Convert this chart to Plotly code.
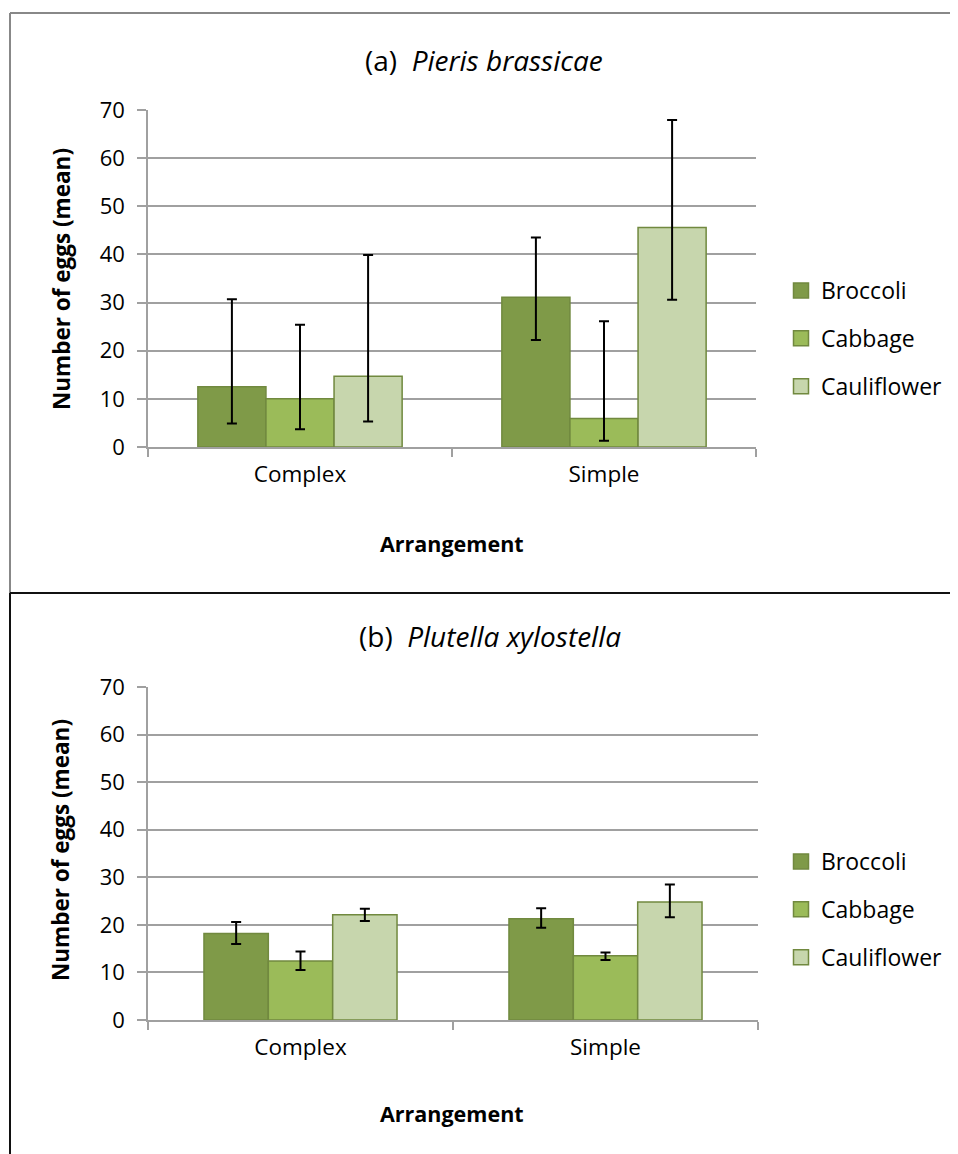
import plotly.graph_objects as go

# ---------------- data ----------------
categories = ["Complex", "Simple"]
series_names = ["Broccoli", "Cabbage", "Cauliflower"]
y_ticks = [0, 10, 20, 30, 40, 50, 60, 70]

# (a) Pieris brassicae : mean, error-bar top, error-bar bottom
a_broccoli = [12.5, 31.1]
a_broccoli_top = [30.7, 43.5]
a_broccoli_bottom = [4.9, 22.2]
a_cabbage = [10.0, 5.9]
a_cabbage_top = [25.4, 26.1]
a_cabbage_bottom = [3.7, 1.3]
a_cauliflower = [14.7, 45.6]
a_cauliflower_top = [39.9, 67.9]
a_cauliflower_bottom = [5.3, 30.6]

# (b) Plutella xylostella
b_broccoli = [18.2, 21.3]
b_broccoli_top = [20.6, 23.5]
b_broccoli_bottom = [16.0, 19.4]
b_cabbage = [12.4, 13.5]
b_cabbage_top = [14.4, 14.2]
b_cabbage_bottom = [10.5, 12.6]
b_cauliflower = [22.1, 24.8]
b_cauliflower_top = [23.4, 28.5]
b_cauliflower_bottom = [20.8, 21.6]

# ---------------- styling ----------------
W, H = 958, 1154
OFF = 8  # page body margin
FONT = "Open Sans"
fills = ["#7F9A48", "#9BBB59", "#C7D6AD"]
outline = "#71893F"
grid = "#A0A0A0"


def px_x(p):
    return (p - OFF) / W


def px_y(p):
    return 1 - (p - OFF) / H


panels = [
    dict(
        means=[a_broccoli, a_cabbage, a_cauliflower],
        tops=[a_broccoli_top, a_cabbage_top, a_cauliflower_top],
        bottoms=[a_broccoli_bottom, a_cabbage_bottom, a_cauliflower_bottom],
        xd=[px_x(148), px_x(756)], yd=[px_y(447), px_y(110)],
        barw=0.224, legend="legend", xa="x", ya="y",
    ),
    dict(
        means=[b_broccoli, b_cabbage, b_cauliflower],
        tops=[b_broccoli_top, b_cabbage_top, b_cauliflower_top],
        bottoms=[b_broccoli_bottom, b_cabbage_bottom, b_cauliflower_bottom],
        xd=[px_x(148), px_x(758)], yd=[px_y(1020), px_y(687)],
        barw=0.211, legend="legend2", xa="x2", ya="y2",
    ),
]

fig = go.Figure()
for p in panels:
    w = p["barw"]
    for i, name in enumerate(series_names):
        m = p["means"][i]
        up = [t - v for t, v in zip(p["tops"][i], m)]
        dn = [v - b for v, b in zip(m, p["bottoms"][i])]
        fig.add_trace(go.Bar(
            x=categories, y=m, name=name,
            width=w, offset=-1.5 * w + i * w,
            marker=dict(color=fills[i], line=dict(color=outline, width=1.5)),
            error_y=dict(type="data", symmetric=False, array=up, arrayminus=dn,
                         color="black", thickness=2, width=5),
            xaxis=p["xa"], yaxis=p["ya"], showlegend=False,
            legendgroup=p["legend"] + name,
        ))
    # legend entries (square swatches)
    for i, name in enumerate(series_names):
        fig.add_trace(go.Scatter(
            x=[None], y=[None], mode="markers", name=name,
            marker=dict(symbol="square", size=15, color=fills[i],
                        line=dict(color=outline, width=1.5)),
            xaxis=p["xa"], yaxis=p["ya"], legend=p["legend"],
            legendgroup=p["legend"] + name, hoverinfo="skip",
        ))

axis_common_x = dict(
    type="category", showline=True, linecolor=grid, linewidth=1.5,
    ticks="outside", tickson="boundaries", ticklen=8, tickcolor=grid, tickwidth=1.5,
    showgrid=False, tickfont=dict(family=FONT, size=22.5, color="black"),
    ticklabelstandoff=6, automargin=False, fixedrange=True,
)
axis_common_y = dict(
    range=[0, 70], tickvals=y_ticks, showline=True, linecolor=grid, linewidth=1.5,
    ticks="outside", ticklen=9, tickcolor=grid, tickwidth=1.5,
    showgrid=True, gridcolor=grid, gridwidth=1.5, zeroline=False,
    tickfont=dict(family=FONT, size=22, color="black"), ticklabelstandoff=8,
    automargin=False, fixedrange=True,
)

legend_common = dict(xanchor="left", yanchor="top", font=dict(family=FONT, size=23),
                     tracegroupgap=15, bgcolor="rgba(0,0,0,0)")

fig.update_layout(
    width=W, height=H, margin=dict(l=0, r=0, t=0, b=0, autoexpand=False),
    paper_bgcolor="white", plot_bgcolor="white",
    barmode="group", showlegend=True,
    font=dict(family=FONT, color="black"),
    xaxis=dict(domain=panels[0]["xd"], anchor="y", **axis_common_x),
    yaxis=dict(domain=panels[0]["yd"], anchor="x", **axis_common_y),
    xaxis2=dict(domain=panels[1]["xd"], anchor="y2", **axis_common_x),
    yaxis2=dict(domain=panels[1]["yd"], anchor="x2", **axis_common_y),
    legend=dict(x=px_x(781), y=px_y(269), **legend_common),
    legend2=dict(x=px_x(781), y=px_y(840), **legend_common),
)

annotations = [
    dict(text="(a)&nbsp;&nbsp;<i>Pieris brassicae</i>", x=px_x(484), y=px_y(60), size=28),
    dict(text="(b)&nbsp;&nbsp;<i>Plutella xylostella</i>", x=px_x(490), y=px_y(636), size=28),
    dict(text="<b>Arrangement</b>", x=px_x(452), y=px_y(543), size=21.5),
    dict(text="<b>Arrangement</b>", x=px_x(452), y=px_y(1113), size=21.5),
]
for a in annotations:
    fig.add_annotation(text=a["text"], x=a["x"], y=a["y"], xref="paper", yref="paper",
                       xanchor="center", yanchor="middle", showarrow=False,
                       font=dict(family=FONT, size=a["size"], color="black"))
for yc in (279, 850):
    fig.add_annotation(text="<b>Number of eggs (mean)</b>", x=px_x(61), y=px_y(yc),
                       xref="paper", yref="paper", xanchor="center", yanchor="middle",
                       textangle=-90, showarrow=False,
                       font=dict(family=FONT, size=22.5, color="black"))

# panel borders
shapes = [
    dict(type="line", x0=px_x(10), x1=1, y0=px_y(13), y1=px_y(13), line=dict(color="#888888", width=2)),
    dict(type="line", x0=px_x(10), x1=px_x(10), y0=px_y(13), y1=px_y(593), line=dict(color="#888888", width=2)),
    dict(type="line", x0=px_x(10), x1=1, y0=px_y(593), y1=px_y(593), line=dict(color="#111111", width=2)),
    dict(type="line", x0=px_x(10), x1=px_x(10), y0=px_y(593), y1=0, line=dict(color="#111111", width=2)),
]
for s in shapes:
    fig.add_shape(xref="paper", yref="paper", **s)

fig.write_html("out.html")
